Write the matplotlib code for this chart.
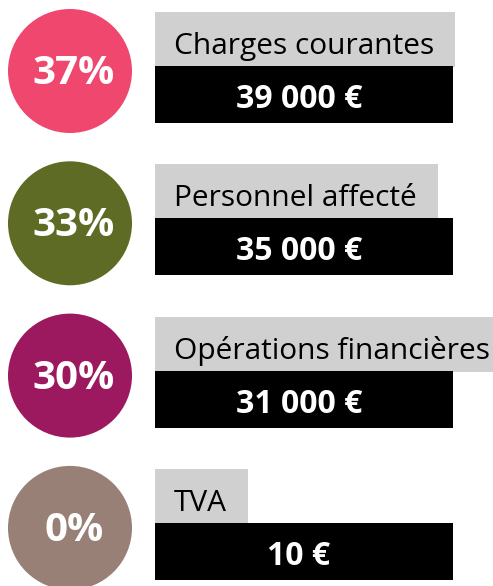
import matplotlib.pyplot as plt
from matplotlib.patches import Circle, Rectangle

labels = ["Charges courantes", "Personnel affecté", "Opérations financières", "TVA"]
values = [39000, 35000, 31000, 10]
colors = ["#ef476e", "#5e6b25", "#9c195f", "#988076"]

W, H = 493, 586


def fmt_eur(v):
    return f"{v:,}".replace(",", " ") + " €"


def main():
    total = sum(values)
    pcts = [round(100 * v / total) for v in values]

    fig = plt.figure(figsize=(W / 100, H / 100), dpi=100)
    ax = fig.add_axes([0, 0, 1, 1])
    ax.set_xlim(0, W)
    ax.set_ylim(H, 0)
    ax.axis("off")
    fig.canvas.draw()
    renderer = fig.canvas.get_renderer()

    font = "Open Sans"
    for i, (lab, val, pct, col) in enumerate(zip(labels, values, pcts, colors)):
        cy = 71 + i * 152.3
        ax.add_patch(Circle((70, cy), 62, color=col, lw=0))
        ax.text(74, cy + 13, f"{pct}%", color="white", fontsize=29, fontweight="bold",
                family=font, ha="center", va="baseline")

        # label on a light grey tab sized to the text
        t = ax.text(174, cy - 17, lab, color="black", fontsize=21.5, family=font,
                    ha="left", va="baseline", zorder=3)
        bb = t.get_window_extent(renderer)
        right = ax.transData.inverted().transform((bb.x1, 0))[0] + 21
        ax.add_patch(Rectangle((155, cy - 59), right - 155, 55, color="#d0d0d0", lw=0))

        ax.add_patch(Rectangle((155, cy - 5), 298, 57, color="black", lw=0))
        ax.text(299, cy + 37, fmt_eur(val), color="white", fontsize=23, fontweight="bold",
                family=font, ha="center", va="baseline")

    fig.savefig("out.png", dpi=100)


if __name__ == "__main__":
    main()
